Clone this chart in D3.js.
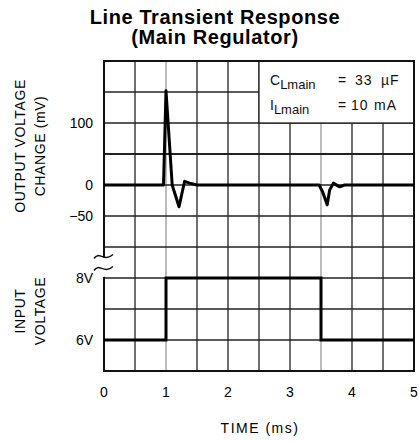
<!DOCTYPE html>
<html>
<head>
<meta charset="utf-8">
<script src="https://cdn.jsdelivr.net/npm/d3@7"></script>
<style>
  body { margin: 0; background: #fff; }
  svg { display: block; font-family: "Liberation Sans", Arial, sans-serif; }
</style>
</head>
<body>
<svg width="419" height="441"></svg>
<script>
(function (d3) {
  'use strict';
  const titleLines = ['Line Transient Response', '(Main Regulator)'];
  const xAxisLabelText = 'TIME (ms)';

  // time ticks (ms)
  const timeTicks = [0, 1, 2, 3, 4, 5];
  // output voltage change (mV) labels and trace
  const outTicks = [100, 0, -50];
  const outT  = [0, 0.96, 1.0, 1.1, 1.21, 1.3, 1.38, 1.5, 3.47, 3.53, 3.6, 3.64, 3.7, 3.8, 3.88, 5];
  const outMV = [0, 0, 152, 0, -35, 6, 3, 0, 0, -12, -32, -8, 3, -3, 0, 0];
  // input voltage (V) labels and trace
  const inTicks = [8, 6];
  const inT = [0, 1, 1, 3.5, 3.5, 5];
  const inV = [6, 6, 8, 8, 6, 6];

  const svg = d3.select('svg');
  const margin = { top: 61, left: 104 };
  const innerWidth = 310;
  const innerHeight = 310;
  const cell = innerHeight / 10;

  const g = svg.append('g')
    .attr('transform', `translate(${margin.left},${margin.top})`);

  const xScale = d3.scaleLinear().domain([0, 5]).range([0, innerWidth]);
  const yOut = d3.scaleLinear().domain([200, -100]).range([0, 6 * cell]);
  const yIn = d3.scaleLinear().domain([9, 5]).range([6 * cell, innerHeight]);

  // grid
  const gridX = d3.range(0, 5.01, 0.5);
  const gridY = d3.range(0, 11);
  g.selectAll('.vgrid').data(gridX).enter().append('line')
    .attr('x1', d => xScale(d)).attr('x2', d => xScale(d))
    .attr('y1', 0).attr('y2', innerHeight)
    .attr('stroke', d => (d === 1 || d === 3.5) ? '#999' : '#222')
    .attr('stroke-width', 1.3);
  g.selectAll('.hgrid').data(gridY).enter().append('line')
    .attr('x1', 0).attr('x2', innerWidth)
    .attr('y1', d => d * cell).attr('y2', d => d * cell)
    .attr('stroke', '#222')
    .attr('stroke-width', d => d === 3 ? 2 : 1.3);

  // legend box
  const lx = xScale(2.5);
  g.append('rect')
    .attr('x', lx).attr('y', 0)
    .attr('width', innerWidth - lx).attr('height', 2 * cell)
    .attr('fill', '#fff').attr('stroke', '#222').attr('stroke-width', 1.3);

  const leg = g.append('g').attr('font-size', 14).attr('fill', '#111');
  const legRow = (sym, val, unit, y, vx, ux) => {
    const t = leg.append('text').attr('x', lx + 11).attr('y', y);
    t.append('tspan').text(sym);
    t.append('tspan').attr('font-size', 13).attr('dy', 4).text('Lmain');
    t.append('tspan').attr('dy', -4).attr('x', lx + 79).text('=');
    t.append('tspan').attr('x', lx + vx).attr('letter-spacing', 1).text(val);
    t.append('tspan').attr('x', lx + ux).attr('letter-spacing', 1).text(unit);
  };
  legRow('C', '33', '\u00b5F', 24, 96, 122);
  legRow('I', '10', 'mA', 49, 92, 115);

  // border
  g.append('rect')
    .attr('width', innerWidth).attr('height', innerHeight)
    .attr('fill', 'none').attr('stroke', '#111').attr('stroke-width', 2);

  // axis break on the left border
  g.append('rect')
    .attr('x', -4).attr('y', yIn(8.65)).attr('width', 8).attr('height', 19)
    .attr('fill', '#fff');
  [yIn(8.5) - 6, yIn(8.5) + 6].forEach(y => {
    g.append('path')
      .attr('d', `M-10,${y + 2} C-5,${y - 6} 0,${y + 6} 9,${y - 2}`)
      .attr('fill', 'none').attr('stroke', '#111').attr('stroke-width', 1.5);
  });

  // traces
  const outLine = d3.line().x((d, i) => xScale(outT[i])).y(d => yOut(d));
  g.append('path').datum(outMV)
    .attr('d', outLine)
    .attr('fill', 'none').attr('stroke', '#000').attr('stroke-width', 3)
    .attr('stroke-linejoin', 'round');
  const inLine = d3.line().x((d, i) => xScale(inT[i])).y(d => yIn(d));
  g.append('path').datum(inV)
    .attr('d', inLine)
    .attr('fill', 'none').attr('stroke', '#000').attr('stroke-width', 3);

  // tick labels
  g.selectAll('.xt').data(timeTicks).enter().append('text')
    .attr('x', d => xScale(d)).attr('y', innerHeight + 26)
    .attr('text-anchor', 'middle').attr('font-size', 14)
    .text(d => d);
  g.selectAll('.yo').data(outTicks).enter().append('text')
    .attr('x', -11).attr('y', d => yOut(d) + 5)
    .attr('text-anchor', 'end').attr('font-size', 14)
    .text(d => d < 0 ? '\u2212' + Math.abs(d) : d);
  g.selectAll('.yi').data(inTicks).enter().append('text')
    .attr('x', -11).attr('y', d => yIn(d) + 5)
    .attr('text-anchor', 'end').attr('font-size', 14)
    .text(d => d + 'V');

  // axis titles
  g.append('text')
    .attr('x', xScale(2.5) + 1).attr('y', innerHeight + 62)
    .attr('text-anchor', 'middle').attr('font-size', 14)
    .attr('letter-spacing', 1.5)
    .text(xAxisLabelText);

  const yLab = (lines, cy) => {
    lines.forEach((t, i) => {
      svg.append('text')
        .attr('transform', `translate(${25 + i * 20},${cy}) rotate(-90)`)
        .attr('text-anchor', 'middle').attr('font-size', 14)
        .attr('letter-spacing', 0.6)
        .text(t);
    });
  };
  yLab(['OUTPUT VOLTAGE', 'CHANGE (mV)'], 146);
  yLab(['INPUT', 'VOLTAGE'], 311);

  // title
  svg.selectAll('.title').data(titleLines).enter().append('text')
    .attr('x', 215).attr('y', (d, i) => 24 + i * 20)
    .attr('text-anchor', 'middle').attr('font-weight', 'bold')
    .attr('font-size', 20).attr('letter-spacing', 0.6)
    .text(d => d);
}(d3));
</script>
</body>
</html>
